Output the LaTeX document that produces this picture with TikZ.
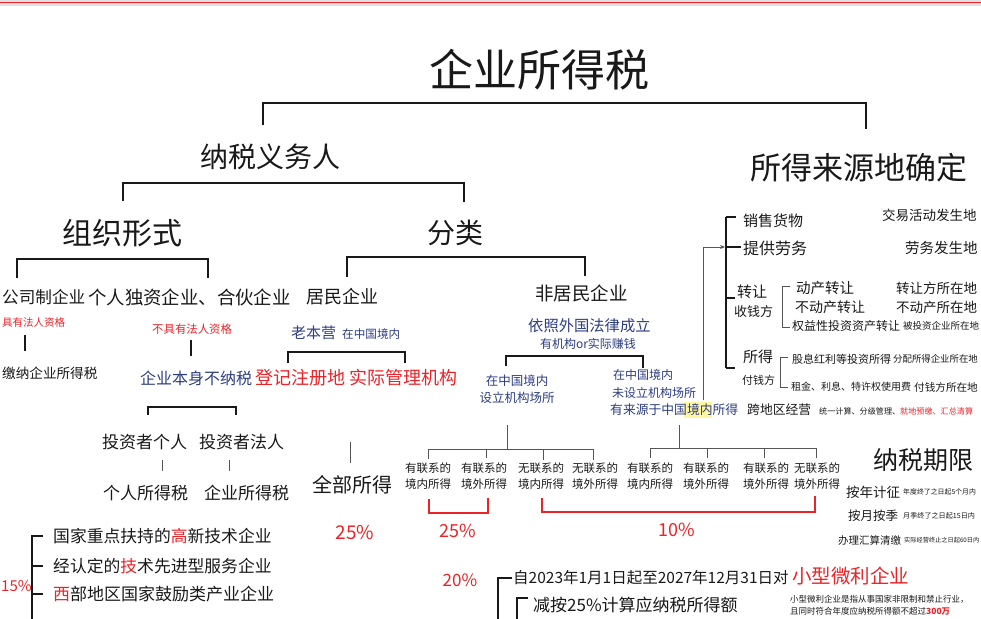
\documentclass[tikz,border=0pt]{standalone}
\usepackage{fontspec}
\setmainfont{Noto Sans CJK SC}
\usetikzlibrary{arrows.meta}
\definecolor{hred}{RGB}{235,35,40}
\definecolor{hblue}{RGB}{45,62,130}
\definecolor{hblack}{RGB}{25,25,25}
\definecolor{hgray}{RGB}{85,85,85}
\definecolor{hyel}{RGB}{255,246,160}
\newcommand{\fsz}[1]{\fontsize{#1}{#1}\selectfont}
\begin{document}
\begin{tikzpicture}[x=1pt,y=-1pt,
  txt/.style={inner sep=0pt, text=hblack},
  rtxt/.style={inner sep=0pt, text=hred},
  btxt/.style={inner sep=0pt, text=hblue},
  ln/.style={draw=hblack, line width=1.3pt},
  gln/.style={draw=hgray, line width=0.9pt},
  rln/.style={draw=hred, line width=1.2pt},
  lbl/.style={inner sep=0pt, text=hblack, align=center, font=\fontsize{11.5}{16}\selectfont}]
\path[use as bounding box] (0,0) rectangle (981,618);
\fill[white] (0,0) rectangle (981,618);
\begin{scope}
\clip (0,0) rectangle (981,618);
\fill[black!12] (0,0) rectangle (981,6);
\draw[hred, line width=1pt] (0,3) -- (981,3);

% title and first level
\node[txt, font=\fsz{44}] (title) at (539,70) {企业所得税};
\draw[ln] (263,125) |- (866,103) -- (866,129);
\node[txt, font=\fsz{28}] (nsyw) at (270,157) {纳税义务人};
\node[txt, font=\fsz{31}, anchor=west] (sdly) at (750,168) {所得来源地确定};

\draw[ln] (123,201) |- (464,183) -- (464,202);
\node[txt, font=\fsz{30}] (zzxs) at (122,233) {组织形式};
\node[txt, font=\fsz{28}] (fl) at (455,233) {分类};

\draw[ln] (17,278) |- (208,259) -- (208,278);
\draw[ln] (347,277) |- (585,257) -- (585,276);

\node[txt, font=\fsz{16.6}, anchor=west] (gszqy) at (2,297) {公司制企业};
\node[txt, font=\fsz{18.4}, anchor=west] (grdz) at (88,297) {个人独资企业、合伙企业};
\node[txt, font=\fsz{18}, anchor=west] (jmqy) at (306,297) {居民企业};
\node[txt, font=\fsz{18.5}, anchor=west] (fjmqy) at (535,293) {非居民企业};

% organisational form branch
\node[rtxt, font=\fsz{10.5}, anchor=west] (yfr) at (2,323) {具有法人资格};
\node[rtxt, font=\fsz{11.4}, anchor=west] (bjy) at (152,329) {不具有法人资格};
\draw[ln] (25,335) -- (25,351);
\draw[ln] (191,340) -- (191,356);
\node[txt, font=\fsz{13.6}, anchor=west] (jnqy) at (2,373) {缴纳企业所得税};
\node[btxt, font=\fsz{16}, anchor=west] (qybs) at (140,378) {企业本身不纳税};
\node[rtxt, font=\fsz{18}, anchor=west] (djzc) at (255,378) {登记注册地\hspace{4pt}实际管理机构};

\draw[ln] (148,415) |- (236,407) -- (236,415);
\node[txt, font=\fsz{17}, anchor=west] (tzgr) at (102,442) {投资者个人};
\node[txt, font=\fsz{17}, anchor=west] (tzfr) at (199,442) {投资者法人};
\draw[gln] (162,460) -- (162,471);
\draw[gln] (229,460) -- (229,471);
\node[txt, font=\fsz{17}, anchor=west] (grsds) at (103,493) {个人所得税};
\node[txt, font=\fsz{17}, anchor=west] (qysds) at (204,493) {企业所得税};

% preferential list
\node[rtxt, font=\fsz{15}, anchor=west] (p15) at (1,586) {15\%};
\draw[ln] (43,536) -| (32,625);
\draw[ln] (32,566) -- (43,566);
\draw[ln] (32,594) -- (43,594);
\node[txt, font=\fsz{16.8}, anchor=west] (l1) at (53,536) {国家重点扶持的\textcolor{hred}{高}新技术企业};
\node[txt, font=\fsz{16.8}, anchor=west] (l2) at (53,566) {经认定的\textcolor{hred}{技}术先进型服务企业};
\node[txt, font=\fsz{17}, anchor=west] (l3) at (53,594) {\textcolor{hred}{西}部地区国家鼓励类产业企业};

% resident branch
\node[btxt, font=\fsz{15}, anchor=west] (lby) at (291,333) {老本营};
\node[btxt, font=\fsz{11.6}, anchor=west] (zzgjn) at (342,334) {在中国境内};
\draw[ln] (288,363) |- (405,352) -- (405,363);
\draw[gln] (350,442) -- (350,463);
\node[txt, font=\fsz{20}, anchor=west] (qbsd) at (312,485) {全部所得};
\node[rtxt, font=\fsz{19}] (r25a) at (355,533) {25\%};

% non-resident branch
\node[btxt, font=\fsz{15.3}, anchor=west] (yzwg) at (528,326) {依照外国法律成立};
\node[btxt, font=\fsz{12}] (yjg) at (588,344) {有机构or实际赚钱};
\draw[ln] (506,366) |- (643,356) -- (643,368);
\node[btxt, font=\fsz{12.5}] (sl1) at (517,381) {在中国境内};
\node[btxt, font=\fsz{12.5}] (sl2) at (517,398) {设立机构场所};
\node[btxt, font=\fsz{12}, anchor=west] (ws1) at (613,375) {在中国境内};
\node[btxt, font=\fsz{12}, anchor=west] (ws2) at (612,393) {未设立机构场所};
\fill[hyel] (684,402) rectangle (712,418);
\node[btxt, font=\fsz{12.8}, anchor=west] (ws3) at (610,410) {有来源于中国境内所得};
\node[txt, font=\fsz{12.8}, anchor=west] (kdq) at (747,410) {跨地区经营};
\node[txt, font=\fsz{8.1}, anchor=west] (tyjs) at (819,411) {统一计算、分级管理、\textcolor{hred}{就地预缴、汇总清算}};

\draw[gln] (507,425) -- (507,449);
\draw[gln] (428,459) |- (593,449) -- (593,460);
\draw[gln] (486,449) -- (486,458);
\draw[gln] (543,449) -- (543,460);
\draw[gln] (679,425) -- (679,448);
\draw[gln] (650,458) |- (816,448) -- (816,458);
\draw[gln] (707,448) -- (707,458);
\draw[gln] (764,448) -- (764,458);

\node[lbl] (c1) at (428,476) {有联系的\\境内所得};
\node[lbl] (c2) at (484,476) {有联系的\\境外所得};
\node[lbl] (c3) at (541,476) {无联系的\\境内所得};
\node[lbl] (c4) at (595,476) {无联系的\\境外所得};
\node[lbl] (c5) at (650,476) {有联系的\\境内所得};
\node[lbl] (c6) at (706,476) {有联系的\\境外所得};
\node[lbl] (c7) at (766,476) {有联系的\\境外所得};
\node[lbl] (c8) at (817,476) {无联系的\\境外所得};

\draw[rln] (429,499) |- (488,513) -- (488,498);
\draw[rln] (542,498) |- (815,512) -- (815,496);
\node[rtxt, font=\fsz{18}] (r25b) at (458,531) {25\%};
\node[rtxt, font=\fsz{18}] (r10) at (677,530) {10\%};

% small micro enterprises
\node[rtxt, font=\fsz{17}] (r20) at (460,580) {20\%};
\draw[ln] (512,578) -| (498,625);
\node[txt, font=\fsz{15.5}, anchor=west] (zi) at (513,578) {自2023年1月1日起至2027年12月31日对};
\node[rtxt, font=\fsz{19.5}, anchor=west] (xwqy) at (792,576) {小型微利企业};
\draw[ln] (528,598) -| (517,625);
\node[txt, font=\fsz{17}, anchor=west] (jian) at (533,605) {减按25\%计算应纳税所得额};
\node[txt, font=\fsz{8.5}, anchor=west] (def1) at (790,599) {小型微利企业是指从事国家非限制和禁止行业，};
\node[txt, font=\fsz{8.5}, anchor=west] (def2) at (790,611) {且同时符合年度应纳税所得额不超过\textcolor{hred}{\bfseries 300万}};

% tax period
\node[txt, font=\fsz{25}, anchor=west] (nsqx) at (873,460) {纳税期限};
\node[txt, font=\fsz{13.5}, anchor=west] (anj) at (846,492) {按年计征};
\node[txt, font=\fsz{6.9}, anchor=west] (anjt) at (903,492) {年度终了之日起5个月内};
\node[txt, font=\fsz{12.5}, anchor=west] (ayj) at (848,516) {按月按季};
\node[txt, font=\fsz{7.1}, anchor=west] (ayjt) at (903,516) {月季终了之日起15日内};
\node[txt, font=\fsz{10.5}, anchor=west] (hsqj) at (838,540) {办理汇算清缴};
\node[txt, font=\fsz{6.2}, anchor=west] (hsqjt) at (904,540) {实际经营终止之日起60日内};

% source of income
\draw[ln] (726,217) -- (726,368);
\draw[ln] (726,217) -- (736,217);
\draw[ln] (726,247) -- (741,247);
\draw[ln] (726,298) -- (735,298);
\draw[ln] (726,368) -- (735,368);
\draw[gln, -{Stealth[length=5pt,width=4pt]}] (703,400) |- (725,247);

\node[txt, font=\fsz{15}, anchor=west] (xshw) at (743,221) {销售货物};
\node[txt, font=\fsz{16}, anchor=west] (tglw) at (743,248) {提供劳务};
\node[txt, font=\fsz{13.5}, anchor=west] (jyhd) at (882,215) {交易活动发生地};
\node[txt, font=\fsz{14.5}, anchor=west] (lwfs) at (905,248) {劳务发生地};

\node[txt, font=\fsz{15}, anchor=west] (zr) at (737,292) {转让};
\node[txt, font=\fsz{13}, anchor=west] (sqf) at (734,312) {收钱方};
\draw[gln] (790,286) -| (782,327) -- (790,327);
\node[txt, font=\fsz{14.5}, anchor=west] (dczr) at (796,288) {动产转让};
\node[txt, font=\fsz{14}, anchor=west] (bdczr) at (795,307) {不动产转让};
\node[txt, font=\fsz{12}, anchor=west] (qyx) at (792,326) {权益性投资资产转让};
\node[txt, font=\fsz{13.5}, anchor=west] (zrf) at (896,288) {转让方所在地};
\node[txt, font=\fsz{13.5}, anchor=west] (bdcs) at (896,307) {不动产所在地};
\node[txt, font=\fsz{9.5}, anchor=west] (btz) at (903,326) {被投资企业所在地};

\node[txt, font=\fsz{15}, anchor=west] (sd) at (743,357) {所得};
\node[txt, font=\fsz{11}, anchor=west] (fqf) at (742,380) {付钱方};
\draw[gln] (788,357) -| (780,387) -- (788,387);
\node[txt, font=\fsz{11}, anchor=west] (gxhl) at (792,359) {股息红利等投资所得};
\node[txt, font=\fsz{10}, anchor=west] (zjlx) at (791,387) {租金、利息、特许权使用费};
\node[txt, font=\fsz{9.4}, anchor=west] (fpsd) at (893,359) {分配所得企业所在地};
\node[txt, font=\fsz{10.6}, anchor=west] (fqfs) at (914,387) {付钱方所在地};
\end{scope}
\end{tikzpicture}
\end{document}
